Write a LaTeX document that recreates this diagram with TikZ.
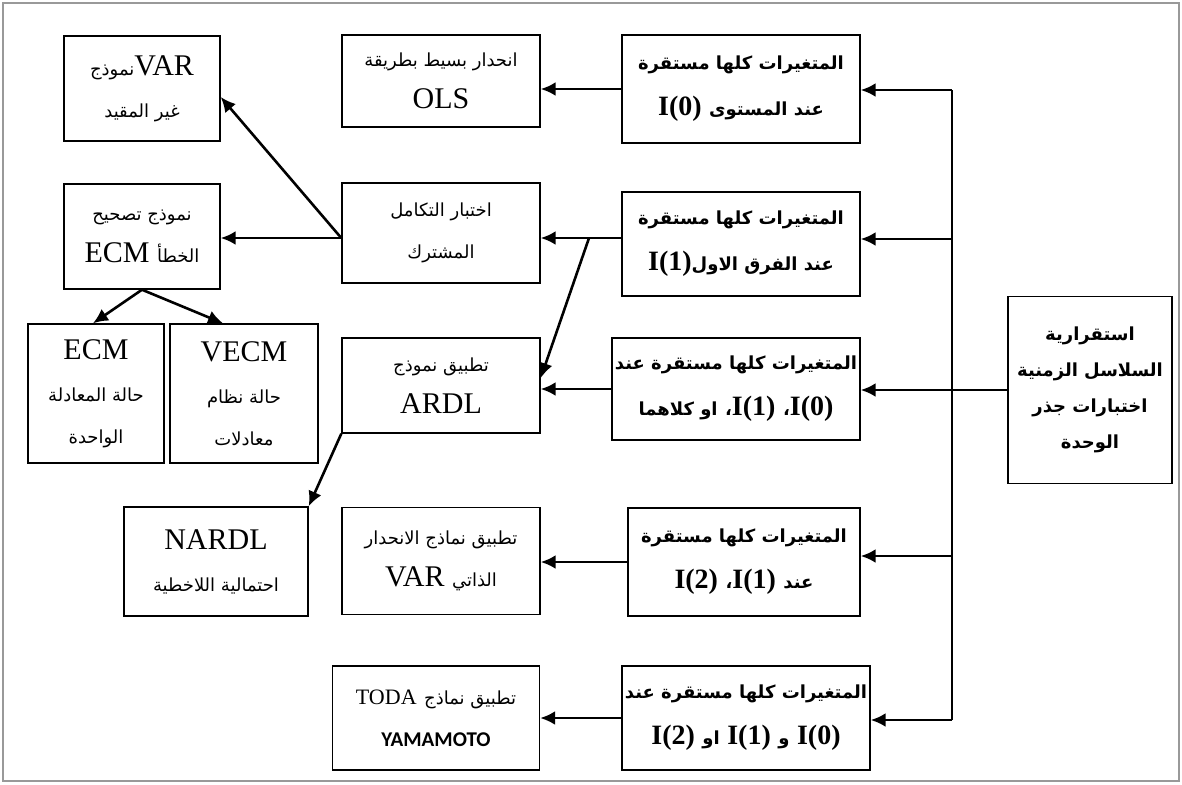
\documentclass[tikz,border=0pt]{standalone}
\usepackage{fontspec}
\setmainfont{Liberation Serif}
\newfontfamily\arabicfont[Script=Arabic,Scale=0.6]{DejaVu Sans}
\newfontfamily\yamafont{Carlito}
\TeXXeTstate=1
\usetikzlibrary{arrows.meta}
\newcommand {\ar}  [1] {{\arabicfont\beginR#1\endR}}
\newcommand {\bI}  [1] {{\fontsize{14}{23}\selectfont\textbf{I(#1)}}}

\tikzset{
  boldbox/.style={draw, line width=0.7pt, align=center, inner sep=0pt,
    font=\fontsize{15}{23}\selectfont\bfseries},
  plainbox/.style={draw, line width=0.7pt, align=center, inner sep=0pt,
    font=\fontsize{15}{21}\selectfont},
  link/.style={line width=1.3pt, -{Latex[length=7.5pt,width=7pt]}},
  trunk/.style={line width=0.9pt},
}

\begin{document}
\begin{tikzpicture}[x=0.5pt,y=-0.5pt]
	\useasboundingbox (0,0) rectangle (1182,784);
	\draw[gray!80, line width=0.6pt] (3,3) rectangle (1179,781);

	% right column
	\node[boldbox, minimum width=119pt, minimum height=54pt] (r1) at (741,89)
		{\ar{المتغيرات كلها مستقرة}\\ \bI{0} \ar{عند المستوى}};
	\node[boldbox, minimum width=119pt, minimum height=52pt] (r2) at (741,244)
		{\ar{المتغيرات كلها مستقرة}\\ \bI{1}\ar{عند الفرق الاول}};
	\node[boldbox, minimum width=124pt, minimum height=51pt] (r3) at (736,389)
		{\ar{المتغيرات كلها مستقرة عند}\\ \ar{او كلاهما} \ar{،}\bI{1} \ar{،}\bI{0}};
	\node[boldbox, minimum width=116pt, minimum height=54pt] (r4) at (744,562)
		{\ar{المتغيرات كلها مستقرة}\\ \bI{2} \ar{،}\bI{1} \ar{عند}};
	\node[boldbox, minimum width=124pt, minimum height=52pt] (r5) at (746,718)
		{\ar{المتغيرات كلها مستقرة عند}\\ \bI{2} \ar{او} \bI{1} \ar{و} \bI{0}};
	\node[boldbox, font=\fontsize{15}{18}\selectfont\bfseries,
		minimum width=82pt, minimum height=93.5pt] (src) at (1090,390)
		{\ar{استقرارية}\\ \ar{السلاسل الزمنية}\\ \ar{اختبارات جذر}\\ \ar{الوحدة}};

	% middle column
	\node[plainbox, minimum width=99pt, minimum height=46pt] (m1) at (441,81)
		{\ar{انحدار بسيط بطريقة}\\ OLS};
	\node[plainbox, minimum width=99pt, minimum height=50pt] (m2) at (441,233)
		{\ar{اختبار التكامل}\\ \ar{المشترك}};
	\node[plainbox, minimum width=99pt, minimum height=47.5pt] (m3) at (441,385.5)
		{\ar{تطبيق نموذج}\\ ARDL};
	\node[plainbox, minimum width=99pt, minimum height=53.5pt] (m4) at (441,561)
		{\ar{تطبيق نماذج الانحدار}\\ VAR \ar{الذاتي}};
	\node[plainbox, minimum width=103.5pt, minimum height=52pt] (m5) at (436,718)
		{{\fontsize{11}{21}\selectfont TODA}\ \ar{تطبيق نماذج}\\
		 {\yamafont\bfseries\fontsize{10.5}{21}\selectfont YAMAMOTO}};

	% left column
	\node[plainbox, minimum width=78pt, minimum height=52.5pt] (l1) at (142,88.5)
		{\ar{نموذج}VAR\\ \ar{غير المقيد}};
	\node[plainbox, minimum width=78pt, minimum height=52.5pt] (l2) at (142,236.5)
		{\ar{نموذج تصحيح}\\ ECM \ar{الخطأ}};
	\node[plainbox, minimum width=68pt, minimum height=69.5pt] (l3) at (96,393.5)
		{ECM\\ \ar{حالة المعادلة}\\ \ar{الواحدة}};
	\node[plainbox, minimum width=74pt, minimum height=69.5pt] (l4) at (244,393.5)
		{VECM\\ \ar{حالة نظام}\\ \ar{معادلات}};
	\node[plainbox, minimum width=92pt, minimum height=54.5pt] (n1) at (216,561.5)
		{NARDL\\ \ar{احتمالية اللاخطية}};

	% trunk from the unit root tests
	\coordinate (t1) at (952,90);
	\coordinate (t2) at (952,239);
	\coordinate (t3) at (952,390);
	\coordinate (t4) at (952,556);
	\coordinate (t5) at (952,720);
	\draw[trunk] (t1) -- (t5);
	\draw[trunk] (src.west) -- (src.west -| t3);
	\draw[link] (t1) -- (t1 -| r1.east);
	\draw[link] (t2) -- (t2 -| r2.east);
	\draw[link] (t3) -- (t3 -| r3.east);
	\draw[link] (t4) -- (t4 -| r4.east);
	\draw[link] (t5) -- (t5 -| r5.east);

	% right to middle
	\coordinate (split) at (589,238);
	\draw[link] (r1.west) -- (r1.west -| m1.east);
	\draw[link] (r2.west |- split) -- (split -| m2.east);
	\draw[link] (split) -- ([yshift=3.75pt]m3.east);
	\draw[link] (r3.west) -- (r3.west -| m3.east);
	\draw[link] (r4.west) -- (r4.west -| m4.east);
	\draw[link] (r5.west) -- (r5.west -| m5.east);

	% middle to left
	\draw[link] (m2.west |- split) -- ([yshift=-4.25pt]l1.east);
	\draw[link] (m2.west |- split) -- (split -| l2.east);
	\draw[link] (l2.south) -- ([xshift=-1.5pt]l3.north);
	\draw[link] (l2.south) -- ([xshift=-10.5pt]l4.north);
	\draw[link] (m3.south west) -- (n1.north east);
\end{tikzpicture}
\end{document}
